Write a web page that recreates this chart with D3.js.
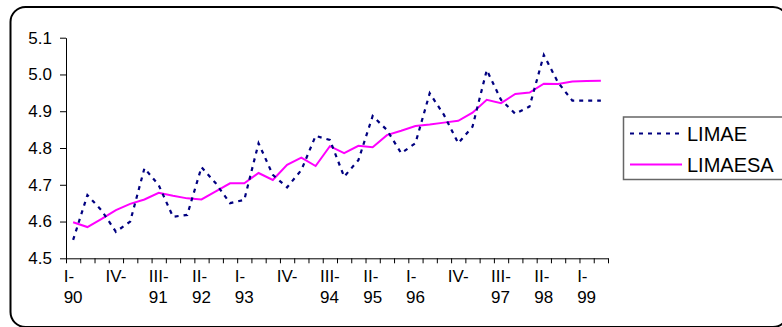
<!DOCTYPE html>
<html>
<head>
<meta charset="utf-8">
<script src="https://cdn.jsdelivr.net/npm/d3@7"></script>
<style>
  html, body { margin: 0; padding: 0; background: #fff; }
  svg { display: block; }
  text { font-family: "Liberation Sans", Arial, sans-serif; fill: #000; }
</style>
</head>
<body>
<svg id="chart" width="782" height="327"></svg>
<script>
// ---- data ----
const categories = [
  "I-90","II-90","III-90","IV-90",
  "I-91","II-91","III-91","IV-91",
  "I-92","II-92","III-92","IV-92",
  "I-93","II-93","III-93","IV-93",
  "I-94","II-94","III-94","IV-94",
  "I-95","II-95","III-95","IV-95",
  "I-96","II-96","III-96","IV-96",
  "I-97","II-97","III-97","IV-97",
  "I-98","II-98","III-98","IV-98",
  "I-99","II-99"
];
const limae = [
  4.550, 4.672, 4.630, 4.572,
  4.600, 4.745, 4.699, 4.613,
  4.618, 4.748, 4.704, 4.650,
  4.659, 4.813, 4.727, 4.693,
  4.740, 4.833, 4.822, 4.722,
  4.767, 4.887, 4.849, 4.786,
  4.813, 4.949, 4.890, 4.813,
  4.858, 5.012, 4.931, 4.893,
  4.913, 5.053, 4.978, 4.929,
  4.929, 4.929
];
const limaesa = [
  4.598, 4.585, 4.607, 4.631,
  4.648, 4.660, 4.678, 4.670,
  4.663, 4.660, 4.682, 4.704,
  4.704, 4.732, 4.713, 4.754,
  4.774, 4.751, 4.805, 4.786,
  4.806, 4.802, 4.835, 4.847,
  4.860, 4.864, 4.869, 4.874,
  4.896, 4.931, 4.922, 4.947,
  4.951, 4.975, 4.974, 4.981,
  4.982, 4.983
];
const tickCats = ["I-90","IV-90","III-91","II-92","I-93","IV-93","III-94","II-95","I-96","IV-96","III-97","II-98","I-99"];
const tickLabels = [
  ["I-","90"],["IV-",""],["III-","91"],["II-","92"],["I-","93"],["IV-",""],
  ["III-","94"],["II-","95"],["I-","96"],["IV-",""],["III-","97"],["II-","98"],["I-","99"]
];
const yTicks = [4.5, 4.6, 4.7, 4.8, 4.9, 5.0, 5.1];
const seriesNames = ["LIMAE", "LIMAESA"];

// ---- layout ----
const svg = d3.select("#chart");
const L = 66, R = 608, T = 37.7, B = 258.3;

// outer rounded frame (right edge runs just past the window)
svg.append("rect")
  .attr("x", 10.5).attr("y", 7).attr("width", 777.5).attr("height", 320)
  .attr("rx", 15).attr("ry", 15)
  .attr("fill", "#fff").attr("stroke", "#000").attr("stroke-width", 2);

const x = d3.scaleLinear().domain([0, categories.length]).range([L, R]);
const y = d3.scaleLinear().domain([4.5, 5.1]).range([B, T]);

// y axis
const yAxis = svg.append("g").attr("transform", `translate(${L},0)`)
  .call(d3.axisLeft(y).tickValues(yTicks).tickFormat(d3.format(".1f"))
    .tickSize(6).tickSizeOuter(0).tickPadding(8));
yAxis.selectAll("text").style("font-size", "17px").attr("fill", "#000");
yAxis.selectAll("line, path").attr("stroke", "#000");

// x axis (ticks at category boundaries)
const xAxis = svg.append("g").attr("transform", `translate(0,${B})`)
  .call(d3.axisBottom(x).tickValues(d3.range(0, categories.length + 1))
    .tickFormat("").tickSize(5).tickSizeOuter(0));
xAxis.selectAll("line, path").attr("stroke", "#000");

// x labels, two lines, left-aligned block centered on category
const lab = svg.append("g");
tickCats.forEach((c, k) => {
  const i = categories.indexOf(c);
  const cx = x(i + 0.5);
  const g = lab.append("g");
  const t1 = g.append("text").attr("y", 281.5).style("font-size", "17px").text(tickLabels[k][0]);
  const t2 = g.append("text").attr("y", 303).style("font-size", "17px").text(tickLabels[k][1]);
  const w = Math.max(t1.node().getComputedTextLength(), t2.node().getComputedTextLength());
  t1.attr("x", cx - w / 2);
  t2.attr("x", cx - w / 2);
});

// lines
const line = d3.line().x((d, i) => x(i + 0.5)).y(d => y(d));
svg.append("path").datum(limaesa)
  .attr("d", line).attr("fill", "none")
  .attr("stroke", "#ff00ff").attr("stroke-width", 2);
svg.append("path").datum(limae)
  .attr("d", line).attr("fill", "none")
  .attr("stroke", "#000080").attr("stroke-width", 2.2)
  .attr("stroke-dasharray", "4,5");

// legend
const lg = svg.append("g");
lg.append("rect").attr("x", 623.5).attr("y", 117).attr("width", 170).attr("height", 62.5)
  .attr("fill", "#fff").attr("stroke", "#666").attr("stroke-width", 1.5);
const legendStyles = [
  {color: "#000080", dash: "4,5", width: 2.2},
  {color: "#ff00ff", dash: null, width: 2}
];
seriesNames.forEach((name, k) => {
  const cy = 133.5 + k * 31;
  lg.append("line").attr("x1", 630).attr("x2", 682).attr("y1", cy).attr("y2", cy)
    .attr("stroke", legendStyles[k].color).attr("stroke-width", legendStyles[k].width)
    .attr("stroke-dasharray", legendStyles[k].dash);
  lg.append("text").attr("x", 687).attr("y", cy + 7.3).style("font-size", "20px").text(name);
});
</script>
</body>
</html>
